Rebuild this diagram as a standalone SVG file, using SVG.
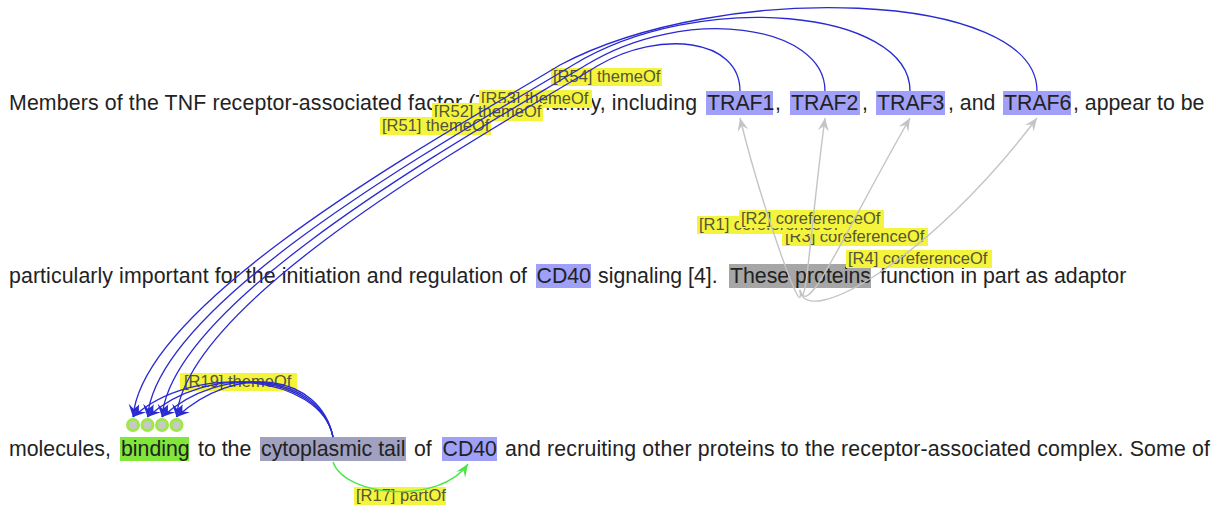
<svg xmlns="http://www.w3.org/2000/svg" width="1220" height="510" viewBox="0 0 1220 510">
<style>
.t{font-family:"Liberation Sans",Arial,sans-serif;font-size:21.3px;fill:#222}
.lb{fill:#f4f43c}
.lt{font-family:"Liberation Sans",Arial,sans-serif;font-size:16.5px;fill:#555537}
.blue{fill:none;stroke:#2a2ad2;stroke-width:1.3}
.gray{fill:none;stroke:#c4c4c4;stroke-width:1.4}
.green{fill:none;stroke:#4ee44e;stroke-width:1.4}
.prot{fill:#a0a0f8}
.ev{fill:#c8c8c8;stroke:#9ee84a;stroke-width:3}
</style>
<defs>
<marker id="ab" viewBox="-13 -6 14 12" refX="0" refY="0" markerWidth="14" markerHeight="12" markerUnits="userSpaceOnUse" orient="auto"><path d="M0,0 L-13,-5.5 L-8,0 L-13,5.5 Z" fill="#2a2ad2"/></marker>
<marker id="ag" viewBox="-13 -6 14 12" refX="0" refY="0" markerWidth="14" markerHeight="12" markerUnits="userSpaceOnUse" orient="auto"><path d="M0,0 L-13,-5.5 L-8,0 L-13,5.5 Z" fill="#c4c4c4"/></marker>
<marker id="agr" viewBox="-13 -6 14 12" refX="0" refY="0" markerWidth="14" markerHeight="12" markerUnits="userSpaceOnUse" orient="auto"><path d="M0,0 L-13,-5.5 L-8,0 L-13,5.5 Z" fill="#4ee44e"/></marker>
</defs>

<g id="line1">
<text class="t" x="9" y="110" textLength="688" lengthAdjust="spacing">Members of the TNF receptor-associated factor (TRAF) family, including</text>
<text class="t" x="775" y="110">,</text>
<text class="t" x="862" y="110">,</text>
<text class="t" x="948" y="110">, and</text>
<text class="t" x="1073" y="110">, appear to be</text>
</g>
<g id="node-TRAF1"><rect class="prot" x="706" y="91" width="67" height="24"/><text class="t" x="707" y="110">TRAF1</text></g>
<g id="node-TRAF2"><rect class="prot" x="790" y="91" width="70" height="24"/><text class="t" x="791" y="110">TRAF2</text></g>
<g id="node-TRAF3"><rect class="prot" x="876" y="91" width="69" height="24"/><text class="t" x="877" y="110">TRAF3</text></g>
<g id="node-TRAF6"><rect class="prot" x="1003" y="91" width="68" height="24"/><text class="t" x="1004" y="110">TRAF6</text></g>

<g id="line2">
<text class="t" x="9" y="283" textLength="518" lengthAdjust="spacing">particularly important for the initiation and regulation of</text>
<text class="t" x="598" y="283">signaling [4].</text>
<text class="t" x="880" y="283">function in part as adaptor</text>
</g>
<g id="node-CD40a"><rect class="prot" x="536" y="264" width="55" height="24"/><text class="t" x="536.5" y="283">CD40</text></g>
<g id="node-these"><rect x="729" y="264" width="142" height="24" fill="#a6a6a6"/><text class="t" x="730" y="283">These proteins</text></g>

<g id="line3">
<text class="t" x="9" y="456">molecules,</text>
<text class="t" x="198" y="456">to the</text>
<text class="t" x="414" y="456">of</text>
<text class="t" x="505" y="456" textLength="705" lengthAdjust="spacing">and recruiting other proteins to the receptor-associated complex. Some of</text>
</g>
<g id="node-binding"><rect x="120" y="437" width="69" height="24" fill="#80e63a"/><text class="t" x="121" y="456">binding</text></g>
<g id="node-tail"><rect x="260" y="437" width="146" height="24" fill="#a0a0c0"/><text class="t" x="261" y="456">cytoplasmic tail</text></g>
<g id="node-CD40b"><rect class="prot" x="442" y="437" width="55" height="24"/><text class="t" x="442.5" y="456">CD40</text></g>

<g id="node-events">
<circle class="ev" cx="133" cy="425" r="5.5"/>
<circle class="ev" cx="147.5" cy="425" r="5.5"/>
<circle class="ev" cx="162" cy="425" r="5.5"/>
<circle class="ev" cx="176.5" cy="425" r="5.5"/>
</g>

<g id="connectors">
<rect class="lb" x="551" y="68" width="111" height="18"/><text class="lt" x="553" y="82">[R54] themeOf</text>
<rect class="lb" x="479" y="90" width="113" height="18"/><text class="lt" x="481" y="104">[R53] themeOf</text>
<rect class="lb" x="432" y="103" width="111" height="18"/><text class="lt" x="434" y="117">[R52] themeOf</text>
<rect class="lb" x="380" y="117" width="111" height="18"/><text class="lt" x="382" y="131">[R51] themeOf</text>
<rect class="lb" x="180" y="373" width="117" height="18"/><text class="lt" x="184" y="387">[R19] themeOf</text>
<rect class="lb" x="354" y="487" width="92" height="18"/><text class="lt" x="356" y="501">[R17] partOf</text>
<rect class="lb" x="782" y="228" width="146" height="18"/><text class="lt" x="785" y="242">[R3] coreferenceOf</text>
<rect class="lb" x="697" y="216" width="143" height="18"/><text class="lt" x="699" y="230">[R1] coreferenceOf</text>
<rect class="lb" x="739" y="210" width="145" height="18"/><text class="lt" x="741" y="224">[R2] coreferenceOf</text>
<rect class="lb" x="846" y="250" width="146" height="18"/><text class="lt" x="848" y="264">[R4] coreferenceOf</text>

<path class="blue" marker-end="url(#ab)" d="M1037,91 C1037,-10 720,-20 560,65 C460,126 143,297 133,417"/>
<path class="blue" marker-end="url(#ab)" d="M910,91 C910,10 700,-12 573,65 C473,126 157.5,297 147.5,417"/>
<path class="blue" marker-end="url(#ab)" d="M825,91 C825,25 686,4 586,65 C486,126 172,297 162,417"/>
<path class="blue" marker-end="url(#ab)" d="M740,91 C740,38 659,30 599,65 C499,126 186.5,297 176.5,417"/>

<path class="blue" marker-end="url(#ab)" d="M333,437 C320,374 193,362 133,417"/>
<path class="blue" marker-end="url(#ab)" d="M333,437 C320,374 207.5,362 147.5,417"/>
<path class="blue" marker-end="url(#ab)" d="M333,437 C320,374 222,362 162,417"/>
<path class="blue" marker-end="url(#ab)" d="M333,437 C320,374 236.5,362 176.5,417"/>

<path class="gray" marker-end="url(#ag)" d="M800,290 C805,330 760,200 740,118"/>
<path class="gray" marker-end="url(#ag)" d="M800,290 C806,318 810,230 825,118"/>
<path class="gray" marker-end="url(#ag)" d="M800,290 C808,320 840,240 910,118"/>
<path class="gray" marker-end="url(#ag)" d="M800,290 C805,330 930,260 1037,118"/>

<path class="green" marker-end="url(#agr)" d="M333,462 C345,497 440,505 468,464"/>
</g>
</svg>
